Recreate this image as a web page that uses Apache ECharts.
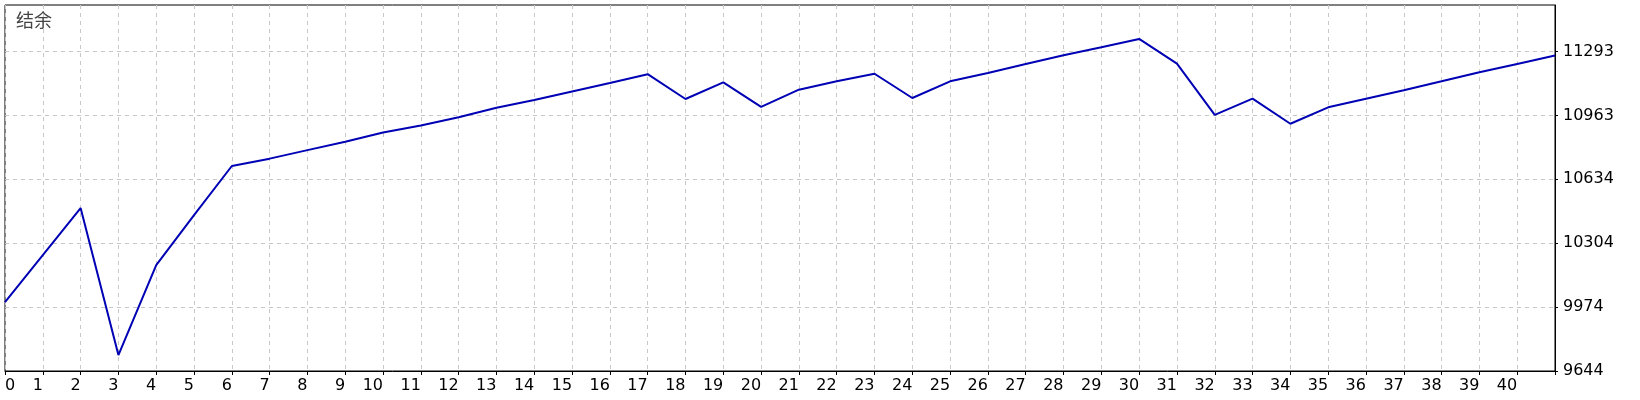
<!DOCTYPE html>
<html>
<head>
<meta charset="utf-8">
<script src="https://cdn.jsdelivr.net/npm/echarts@6/dist/echarts.min.js"></script>
<style>
html, body { margin: 0; padding: 0; background: #fff; }
#balanceDiv { width: 1640px; height: 400px; }
</style>
</head>
<body>
<div id="balanceDiv"></div>
<script>
// 横轴：交易序号
const tradeNo = ['0', '1', '2', '3', '4', '5', '6', '7', '8', '9', '10', '11', '12', '13', '14', '15', '16', '17', '18', '19', '20',
	'21', '22', '23', '24', '25', '26', '27', '28', '29', '30', '31', '32', '33', '34', '35', '36', '37', '38', '39', '40', '41']
// 结余
const balance = [10000, 10242, 10485, 9726, 10190, 10448, 10702, 10740, 10784, 10827, 10875, 10911, 10954, 11003, 11043, 11087,
	11130, 11176, 11048, 11134, 11007, 11096, 11139, 11178, 11053, 11139, 11182, 11228, 11274, 11315, 11358, 11230, 10966, 11050,
	10920, 11005, 11049, 11093, 11139, 11186, 11229, 11272]
// 纵轴刻度
const yTicks = [9644, 9974, 10304, 10634, 10963, 11293]
const yMin = 9644
const yMax = 11533

let balanceChart = echarts.init(document.getElementById(`balanceDiv`));
let balanceOption = {
	animation: false,
	title: {
		text: '结余',
		left: 11,
		top: 6,
		textStyle: {
			color: '#444',
			fontSize: 18,
			fontWeight: 'normal',
			fontFamily: 'Noto Sans CJK SC'
		}
	},
	grid: {
		left: 5,
		right: 85,
		top: 5,
		bottom: 29,
		show: true,
		borderColor: '#000',
		borderWidth: 1
	},
	xAxis: {
		type: 'category',
		boundaryGap: false,
		data: tradeNo,
		axisLine: { lineStyle: { color: '#000', width: 1 } },
		axisTick: { show: true, length: 4, interval: 0, lineStyle: { color: '#000' } },
		axisLabel: {
			interval: 0,
			align: 'right',
			alignMinLabel: 'left',
			margin: 7,
			color: '#000',
			fontSize: 16,
			fontFamily: 'DejaVu Sans',
			formatter: function (value, index) {
				// 最后一个点不显示序号
				return index === tradeNo.length - 1 ? '' : value
			}
		},
		splitLine: {
			show: true,
			interval: 0,
			lineStyle: { color: '#c8c8c8', type: [4, 4] }
		}
	},
	yAxis: {
		type: 'value',
		position: 'right',
		min: yMin,
		max: yMax,
		axisLine: { show: true, lineStyle: { color: '#000', width: 1 } },
		axisTick: { show: true, length: 3, customValues: yTicks, lineStyle: { color: '#000' } },
		axisLabel: {
			customValues: yTicks,
			margin: 8,
			color: '#000',
			fontSize: 16,
			fontFamily: 'DejaVu Sans',
			formatter: function (value) {
				return String(value)
			}
		},
		splitLine: {
			show: true,
			lineStyle: { color: '#c8c8c8', type: [4, 4] }
		}
	},
	series: [{
		name: '结余',
		type: 'line',
		data: balance,
		symbol: 'none',
		lineStyle: { color: '#0000b4', width: 2 }
	}]
};
balanceChart.setOption(balanceOption)
</script>
</body>
</html>
